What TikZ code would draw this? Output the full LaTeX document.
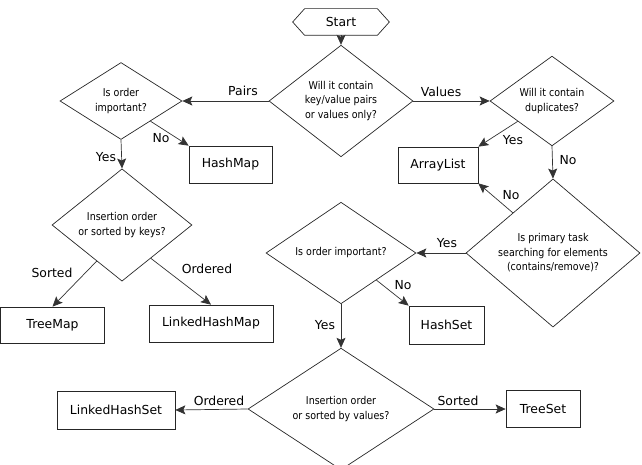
\documentclass[tikz,border=0pt]{standalone}
\usepackage{fontspec}
\setmainfont{DejaVu Sans}
\newfontfamily\condfont[FakeStretch=0.88]{DejaVu Sans}
\usetikzlibrary{shapes.geometric,arrows.meta,calc}
\begin{document}
\begin{tikzpicture}[x=1pt,y=-1pt,
  line width=0.7pt,
  dia/.style={diamond, draw=black!85, inner sep=0pt, font=\condfont\fontsize{10.8}{14.5}\selectfont, align=center},
  box/.style={draw=black!85, rectangle, inner sep=0pt, font=\fontsize{12.4}{14}\selectfont},
  lbl/.style={font=\fontsize{12.4}{14}\selectfont, inner sep=0pt},
  arr/.style={draw=black!80, -{Stealth[length=10pt,width=9pt,inset=2pt]}},
]
\useasboundingbox (0,0) rectangle (642,465);

% start
\node[lbl, minimum width=72, minimum height=26] (start) at (341,22) {Start};
\draw[draw=black!85] (start.north west) -- (start.north east) -- ($(start.east)+(12,0)$) -- (start.south east) -- (start.south west) -- ($(start.west)+(-12,0)$) -- cycle;

% diamonds
\node[dia, minimum width=144, minimum height=94] (main) at (341,101) {Will it contain\\key/value pairs\\or values only?};
\node[dia, minimum width=122, minimum height=76] (ord1) at (121,101) {Is order\\important?};
\node[dia, minimum width=140, minimum height=86] (keys) at (122,225) {Insertion order\\or sorted by keys?};
\node[dia, minimum width=124, minimum height=86] (dup) at (552,101) {Will it contain\\duplicates?};
\node[dia, minimum width=174, minimum height=132] (search) at (553,253) {Is primary task\\searching for elements\\(contains/remove)?};
\node[dia, minimum width=150, minimum height=100] (ord2) at (341,253) {Is order important?};
\node[dia, minimum width=186, minimum height=110] (vals) at (341,409) {Insertion order\\or sorted by values?};

% boxes
\node[box, minimum width=83, minimum height=37] (hashmap) at (230.5,164.5) {HashMap};
\node[box, minimum width=80, minimum height=36] (arraylist) at (438,165) {ArrayList};
\node[box, minimum width=104, minimum height=36] (treemap) at (52.5,325) {TreeMap};
\node[box, minimum width=124, minimum height=37] (lhm) at (211,323.5) {LinkedHashMap};
\node[box, minimum width=75, minimum height=38] (hashset) at (446.5,325) {HashSet};
\node[box, minimum width=118, minimum height=38] (lhs) at (116,410) {LinkedHashSet};
\node[box, minimum width=74, minimum height=37] (treeset) at (543,409) {TreeSet};

% connectors
\draw[arr] (start.south) -- (main.north);
\draw[arr] (main.west) -- (ord1.east);
\draw[arr] (main.east) -- (dup.west);
\draw[arr] ($(ord1.east)!0.52!(ord1.south)$) -- (hashmap.north west);
\draw[arr] (ord1.south) -- (keys.north);
\draw[arr] ($(keys.west)!0.64!(keys.south)$) -- (treemap.north);
\draw[arr] ($(keys.east)!0.59!(keys.south)$) -- (lhm.north);
\draw[arr] ($(dup.west)!0.45!(dup.south)$) -- (arraylist.north east);
\draw[arr] (dup.south) -- (search.north);
\draw[arr] ($(search.north)!0.46!(search.west)$) -- (arraylist.south east);
\draw[arr] (search.west) -- (ord2.east);
\draw[arr] ($(ord2.east)!0.53!(ord2.south)$) -- (hashset.north west);
\draw[arr] (ord2.south) -- (vals.north);
\draw[arr] (vals.west) -- (lhs.east);
\draw[arr] (vals.east) -- (treeset.west);

% labels
\node[lbl] (lPairs) at (243,91) {Pairs};
\node[lbl] (lNo1) at (161,138) {No};
\node[lbl] (lYes1) at (106,157) {Yes};
\node[lbl] (lSorted1) at (52,273) {Sorted};
\node[lbl] (lOrdered1) at (207,269) {Ordered};
\node[lbl] (lValues) at (441,92) {Values};
\node[lbl] (lYes2) at (513,140) {Yes};
\node[lbl] (lNo2) at (568,160) {No};
\node[lbl] (lNo3) at (511,195) {No};
\node[lbl] (lYes3) at (447,243) {Yes};
\node[lbl] (lNo4) at (403,285) {No};
\node[lbl] (lYes4) at (325,325) {Yes};
\node[lbl] (lOrdered2) at (219,401) {Ordered};
\node[lbl] (lSorted2) at (458,401) {Sorted};
\end{tikzpicture}
\end{document}
